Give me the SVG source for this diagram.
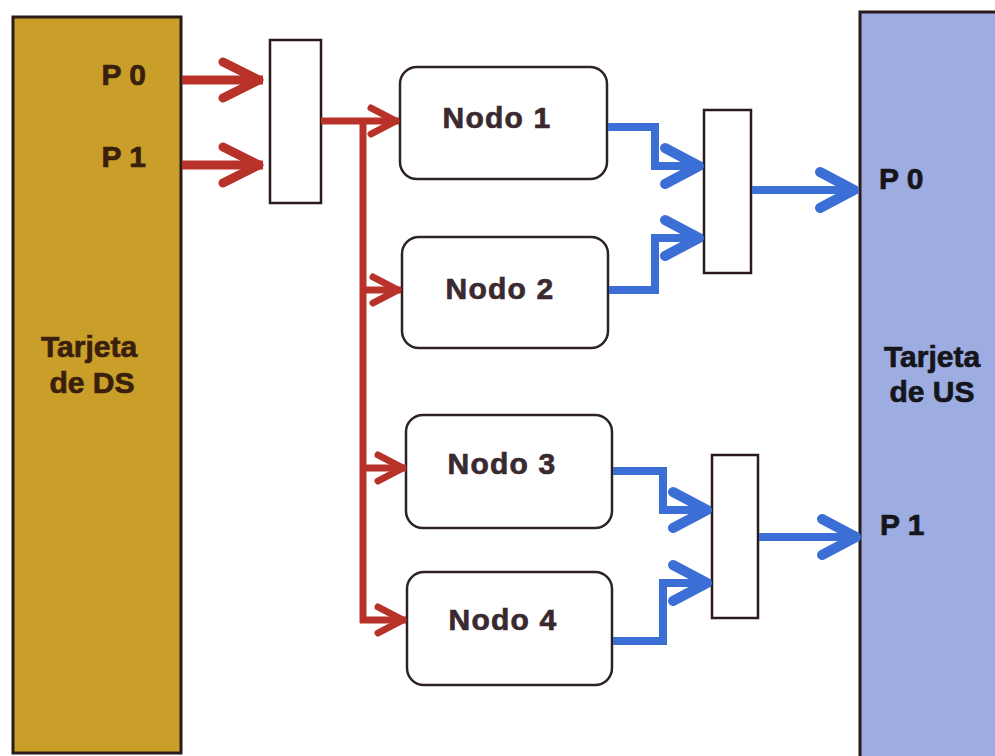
<svg xmlns="http://www.w3.org/2000/svg" width="995" height="756" viewBox="0 0 995 756">
  <defs>
    <style>
      .card { stroke: #2a1a1a; stroke-width: 3; }
      .ds { fill: #C99F2A; }
      .us { fill: #9DADE1; }
      .mux { fill: #ffffff; stroke: #2a1a1a; stroke-width: 2.5; }
      .node { fill: #ffffff; stroke: #2e2226; stroke-width: 2.5; }
      .lbl { font-family: "Liberation Sans", Arial, sans-serif; font-weight: bold; font-size: 30px; stroke-width: 0.7px; }
      .lbl-ds { fill: #3a200c; stroke: #3a200c; }
      .lbl-us { fill: #15151c; stroke: #15151c; }
      .ntxt { font-family: "Liberation Sans", Arial, sans-serif; font-weight: bold; font-size: 30px; letter-spacing: 1.2px; fill: #3a2a30; stroke: #3a2a30; stroke-width: 0.7px; }
      .red { fill: none; stroke: #B8322A; stroke-linejoin: miter; }
      .blue { fill: none; stroke: #3B6FD6; stroke-linejoin: miter; }
    </style>
    <marker id="redBig" markerUnits="userSpaceOnUse" viewBox="-50 -30 60 60" refX="0" refY="0" markerWidth="60" markerHeight="60" orient="auto">
      <path d="M-40,-18 L-4,0 L-40,18" fill="none" stroke="#B8322A" stroke-width="9" stroke-linecap="round" stroke-linejoin="round"/>
    </marker>
    <marker id="redSmall" markerUnits="userSpaceOnUse" viewBox="-40 -25 50 50" refX="0" refY="0" markerWidth="50" markerHeight="50" orient="auto">
      <path d="M-28,-13 L-3,0 L-28,13" fill="none" stroke="#B8322A" stroke-width="7" stroke-linecap="round" stroke-linejoin="round"/>
    </marker>
    <marker id="blueHead" markerUnits="userSpaceOnUse" viewBox="-50 -30 60 60" refX="0" refY="0" markerWidth="60" markerHeight="60" orient="auto">
      <path d="M-38,-18 L-4,0 L-38,18" fill="none" stroke="#3B6FD6" stroke-width="10" stroke-linecap="round" stroke-linejoin="round"/>
    </marker>
  </defs>

  <rect width="995" height="756" fill="#ffffff"/>

  <!-- Downstream card -->
  <g id="tarjeta-ds">
    <rect class="card ds" x="13" y="17" width="168" height="736"/>
    <text class="lbl lbl-ds" x="146" y="85" text-anchor="end">P 0</text>
    <text class="lbl lbl-ds" x="146" y="167" text-anchor="end">P 1</text>
    <text class="lbl lbl-ds" x="89" y="357" text-anchor="middle">Tarjeta</text>
    <text class="lbl lbl-ds" x="92" y="393" text-anchor="middle">de DS</text>
  </g>

  <!-- Upstream card -->
  <g id="tarjeta-us">
    <rect class="card us" x="860" y="12" width="150" height="760"/>
    <text class="lbl lbl-us" x="879" y="189">P 0</text>
    <text class="lbl lbl-us" x="880" y="535">P 1</text>
    <text class="lbl lbl-us" x="932" y="367" text-anchor="middle">Tarjeta</text>
    <text class="lbl lbl-us" x="932" y="402" text-anchor="middle">de US</text>
  </g>

  <!-- Combiners / splitters -->
  <g id="splitter">
    <rect class="mux" x="270" y="40" width="51" height="163"/>
  </g>
  <g id="combiner-0">
    <rect class="mux" x="704" y="110" width="47" height="163"/>
  </g>
  <g id="combiner-1">
    <rect class="mux" x="712" y="455" width="46" height="163"/>
  </g>

  <!-- Nodes -->
  <g id="nodo-1">
    <rect class="node" x="400" y="67" width="207" height="112" rx="17"/>
    <text class="ntxt" x="497" y="128" text-anchor="middle">Nodo 1</text>
  </g>
  <g id="nodo-2">
    <rect class="node" x="402" y="237" width="206" height="111" rx="17"/>
    <text class="ntxt" x="500" y="299" text-anchor="middle">Nodo 2</text>
  </g>
  <g id="nodo-3">
    <rect class="node" x="406" y="415" width="206" height="113" rx="17"/>
    <text class="ntxt" x="502" y="474" text-anchor="middle">Nodo 3</text>
  </g>
  <g id="nodo-4">
    <rect class="node" x="407" y="572" width="205" height="113" rx="17"/>
    <text class="ntxt" x="503" y="630" text-anchor="middle">Nodo 4</text>
  </g>

  <!-- Connectors -->
  <g id="connectors">
    <!-- DS ports into splitter -->
    <path class="red" stroke-width="9" d="M182,80 H263" marker-end="url(#redBig)"/>
    <path class="red" stroke-width="9" d="M182,165 H263" marker-end="url(#redBig)"/>
    <!-- splitter feed bus -->
    <path class="red" stroke-width="7" d="M321,121 H399" marker-end="url(#redSmall)"/>
    <path class="red" stroke-width="7" d="M363,118 V623"/>
    <path class="red" stroke-width="7" d="M363,290 H401" marker-end="url(#redSmall)"/>
    <path class="red" stroke-width="7" d="M363,468 H406" marker-end="url(#redSmall)"/>
    <path class="red" stroke-width="7" d="M360,620 H406" marker-end="url(#redSmall)"/>
    <!-- nodes into combiners -->
    <path class="blue" stroke-width="8" d="M608,127 H655 V166 H703" marker-end="url(#blueHead)"/>
    <path class="blue" stroke-width="8" d="M609,290 H655 V238 H703" marker-end="url(#blueHead)"/>
    <path class="blue" stroke-width="8" d="M613,471 H663 V510 H711" marker-end="url(#blueHead)"/>
    <path class="blue" stroke-width="8" d="M613,641 H663 V583 H711" marker-end="url(#blueHead)"/>
    <!-- combiners into US ports -->
    <path class="blue" stroke-width="8" d="M752,190 H858" marker-end="url(#blueHead)"/>
    <path class="blue" stroke-width="8" d="M759,537 H860" marker-end="url(#blueHead)"/>
  </g>
</svg>
